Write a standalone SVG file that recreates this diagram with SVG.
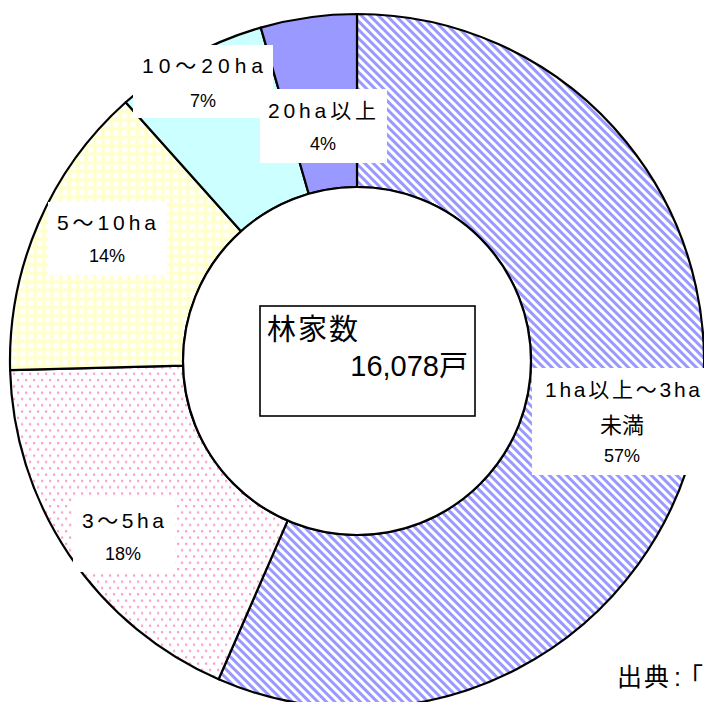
<svg xmlns="http://www.w3.org/2000/svg" width="704" height="702" viewBox="0 0 704 702">
  <defs>
    <pattern id="pStripe" patternUnits="userSpaceOnUse" width="6" height="6" patternTransform="rotate(45)">
      <rect width="6" height="6" fill="#ffffff"/>
      <rect width="6" height="3" fill="#9999ff"/>
    </pattern>
    <pattern id="pDots" patternUnits="userSpaceOnUse" width="8" height="12.6">
      <rect width="8" height="12.6" fill="#ffffff"/>
      <rect x="1" y="1" width="2.2" height="2.2" fill="#ff99cc"/>
      <rect x="5" y="7.3" width="2.2" height="2.2" fill="#ff99cc"/>
    </pattern>
    <pattern id="pGrid" patternUnits="userSpaceOnUse" width="8.5" height="8.5">
      <rect width="8.5" height="8.5" fill="#ffffcc"/>
      <rect x="3" y="3" width="5" height="5" fill="#ffffff"/>
    </pattern>
  </defs>
  <style>
    .slice { stroke: #000000; stroke-width: 2.2; stroke-linejoin: round; }
    .lblbox { fill: #ffffff; stroke: none; }
    .lbl { font-family: "Liberation Sans", "Noto Sans CJK JP", sans-serif; font-size: 21px; fill: #000000; }
    .pct { font-family: "Liberation Sans", "Noto Sans CJK JP", sans-serif; font-size: 18px; fill: #000000; text-anchor: middle; }
    .cjk { font-family: "Noto Sans CJK JP", sans-serif; font-size: 22px; fill: #000000; text-anchor: middle; }
    .big { font-family: "Liberation Sans", "Noto Sans CJK JP", sans-serif; font-size: 29px; fill: #000000; }
  </style>
  <rect width="704" height="702" fill="#ffffff"/>

  <g id="slice-1-3ha">
    <path class="slice" fill="url(#pStripe)" d="M357,14 A347,347 0 1 1 218.6,679.2 L287.6,520.6 A174,174 0 1 0 357,187 Z"/>
  </g>
  <g id="slice-3-5ha">
    <path class="slice" fill="url(#pDots)" d="M218.6,679.2 A347,347 0 0 1 10.1,370.1 L183.1,365.6 A174,174 0 0 0 287.6,520.6 Z"/>
  </g>
  <g id="slice-5-10ha">
    <path class="slice" fill="url(#pGrid)" d="M10.1,370.1 A347,347 0 0 1 125.7,102.3 L241,231.3 A174,174 0 0 0 183.1,365.6 Z"/>
  </g>
  <g id="slice-10-20ha">
    <path class="slice" fill="#ccffff" d="M125.7,102.3 A347,347 0 0 1 260.8,27.6 L308.7,193.8 A174,174 0 0 0 241,231.3 Z"/>
  </g>
  <g id="slice-20ha">
    <path class="slice" fill="#9999ff" d="M260.8,27.6 A347,347 0 0 1 357,14 L357,187 A174,174 0 0 0 308.7,193.8 Z"/>
  </g>
  <g id="hole">
    <circle cx="357" cy="361" r="174" fill="#ffffff" stroke="#000000" stroke-width="2.2"/>
  </g>

  <g id="total-box">
    <rect x="260" y="306" width="215" height="110" fill="#ffffff" stroke="#000000" stroke-width="1.6"/>
    <text class="big" x="267" y="340" letter-spacing="2">林家数</text>
    <text class="big" x="468" y="376" text-anchor="end">16,078戸</text>
  </g>

  <g id="label-10-20ha">
    <rect class="lblbox" x="133" y="45" width="140" height="73"/>
    <text class="lbl" x="142" y="73" textLength="121" lengthAdjust="spacing">10～20ha</text>
    <text class="pct" x="203" y="107">7%</text>
  </g>
  <g id="label-20ha">
    <rect class="lblbox" x="260" y="89" width="127" height="74"/>
    <text class="lbl" x="268" y="118" textLength="108" lengthAdjust="spacing">20ha以上</text>
    <text class="pct" x="323" y="150">4%</text>
  </g>
  <g id="label-5-10ha">
    <rect class="lblbox" x="48" y="202" width="119" height="73"/>
    <text class="lbl" x="57" y="230" textLength="99" lengthAdjust="spacing">5～10ha</text>
    <text class="pct" x="107" y="262">14%</text>
  </g>
  <g id="label-3-5ha">
    <rect class="lblbox" x="73" y="498" width="102" height="74"/>
    <text class="lbl" x="82" y="528" textLength="82" lengthAdjust="spacing">3～5ha</text>
    <text class="pct" x="123" y="560">18%</text>
  </g>
  <g id="label-1-3ha">
    <rect class="lblbox" x="532" y="368" width="180" height="107"/>
    <text class="lbl" x="545" y="397" textLength="155" lengthAdjust="spacing">1ha以上～3ha</text>
    <text class="cjk" x="622" y="433">未満</text>
    <text class="pct" x="622" y="462">57%</text>
  </g>

  <g id="connectors"></g>

  <g id="source">
    <text x="617 644 674 678" y="686" font-family="'Liberation Sans', 'Noto Sans CJK JP', sans-serif" font-size="25" fill="#000000">出典:「</text>
  </g>
</svg>
